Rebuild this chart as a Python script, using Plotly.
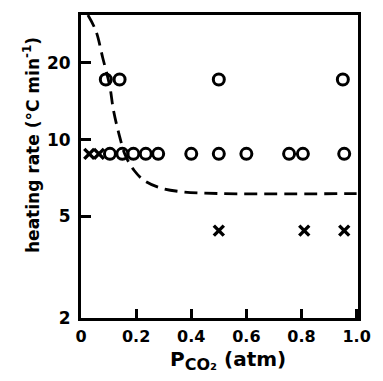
import plotly.graph_objects as go

# Heating-rate runs vs CO2 partial pressure
pco2_fast = [0.09, 0.14, 0.50, 0.95]
rate_fast = [17.2, 17.2, 17.2, 17.2]

pco2_mid_open = [0.105, 0.15, 0.19, 0.235, 0.28, 0.40, 0.50, 0.60, 0.755, 0.805, 0.955]
rate_mid_open = [8.8] * 11

pco2_mid_cross = [0.03, 0.065]
rate_mid_cross = [8.8, 8.8]

pco2_slow_cross = [0.50, 0.81, 0.955]
rate_slow_cross = [4.4, 4.4, 4.4]

# Boundary curve
curve_p = [0.025, 0.054, 0.079, 0.104, 0.118, 0.139, 0.161, 0.193, 0.229, 0.282, 0.354, 0.50, 1.0]
curve_r = [30.8, 26.7, 20.9, 16.3, 13.0, 10.4, 8.67, 7.57, 6.92, 6.50, 6.27, 6.15, 6.15]

x_ticks = [0, 0.2, 0.4, 0.6, 0.8, 1.0]
x_ticklabels = ["0", "0.2", "0.4", "0.6", "0.8", "1.0"]
y_ticks = [2, 5, 10, 20]

font_family = "DejaVu Sans, Liberation Sans, Arial"

fig = go.Figure()

fig.add_trace(go.Scatter(
    x=curve_p, y=curve_r, mode="lines",
    line=dict(color="black", width=2.8, dash="13px,7px", shape="spline"),
    hoverinfo="skip"))

circle_style = dict(symbol="circle-open", size=11, color="black",
                    line=dict(width=3, color="black"))
cross_style = dict(symbol="x-thin-open", size=10, color="black",
                   line=dict(width=3.4, color="black"))

fig.add_trace(go.Scatter(x=pco2_fast, y=rate_fast, mode="markers", marker=circle_style))
fig.add_trace(go.Scatter(x=pco2_mid_open, y=rate_mid_open, mode="markers", marker=circle_style))
fig.add_trace(go.Scatter(x=pco2_mid_cross, y=rate_mid_cross, mode="markers", marker=cross_style))
fig.add_trace(go.Scatter(x=pco2_slow_cross, y=rate_slow_cross, mode="markers", marker=cross_style))

fig.update_layout(
    width=383, height=381,
    margin=dict(l=81, r=20, t=14, b=63),
    paper_bgcolor="white", plot_bgcolor="white",
    showlegend=False,
    font=dict(family=font_family, color="black", size=17),
)

fig.update_xaxes(
    range=[0, 1.005], tickvals=x_ticks, ticktext=x_ticklabels,
    ticks="inside", ticklen=9, tickwidth=2.5, tickcolor="black",
    showline=True, linewidth=3, linecolor="black", mirror=True,
    showgrid=False, zeroline=False, ticklabelstandoff=2,
    tickfont=dict(size=16, family=font_family, weight="bold", color="black"),
)

fig.update_yaxes(
    type="log", range=[0.30103, 1.4886], tickvals=y_ticks,
    ticktext=[str(v) for v in y_ticks],
    ticks="inside", ticklen=10, tickwidth=2.5, tickcolor="black",
    showline=True, linewidth=3, linecolor="black", mirror=True,
    showgrid=False, zeroline=False, ticklabelstandoff=4,
    tickfont=dict(size=17, family=font_family, weight="bold", color="black"),
)

# Axis titles
fig.add_annotation(
    text="heating rate (°C min<sup>-1</sup>)", textangle=-90,
    xref="paper", yref="paper", x=-0.178, y=0.57,
    xanchor="center", yanchor="middle", showarrow=False,
    font=dict(size=17, family=font_family, weight="bold", color="black"))

fig.add_annotation(
    text="P<sub><span style='font-size:16px'>CO₂</span></sub> (atm)",
    xref="paper", yref="paper", x=0.53, y=-0.14,
    xanchor="center", yanchor="middle", showarrow=False,
    font=dict(size=20, family=font_family, weight="bold", color="black"))

fig.write_html("out.html")
